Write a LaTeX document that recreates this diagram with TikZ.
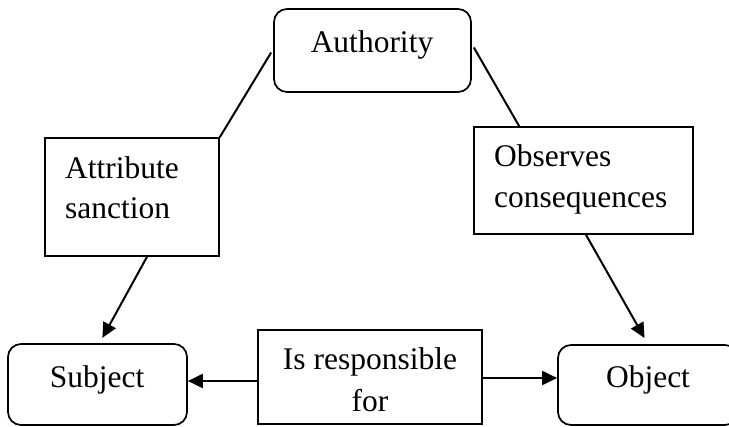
\documentclass[tikz,border=0pt]{standalone}
\usepackage{fontspec}
\setmainfont{Liberation Serif}
\usetikzlibrary{calc,arrows.meta}
\begin{document}
\begin{tikzpicture}[x=1pt,y=-1pt,
  box/.style={draw, line width=1.7pt, inner sep=0pt},
  rbox/.style={box, rounded corners=13pt},
  lbl/.style={font=\fontsize{31.5}{41}\selectfont, inner sep=0pt},
  conn/.style={line width=2pt},
  arr/.style={conn, -{Triangle[length=15pt,width=14pt]}}]
\useasboundingbox (0,0) rectangle (729,427);
\clip (0,0) rectangle (729,427);
% boxes
\node[rbox, minimum width=197pt, minimum height=83pt] (auth) at (372.5,50.5) {};
\node[box, minimum width=174pt, minimum height=118pt] (attr) at (132,197) {};
\node[box, minimum width=219pt, minimum height=107pt] (obs) at (583.5,180.5) {};
\node[rbox, minimum width=179pt, minimum height=81pt] (subj) at (97.5,384.5) {};
\node[box, minimum width=224pt, minimum height=94pt] (resp) at (370,377) {};
\node[rbox, minimum width=180pt, minimum height=80pt] (obj) at (648,385) {};
% texts
\node[lbl, anchor=base] (authT) at (372,53) {Authority};
\node[lbl, anchor=base west] (attrT1) at (65,179) {Attribute};
\node[lbl, anchor=base west] (attrT2) at (65,219) {sanction};
\node[lbl, anchor=base west] (obsT1) at (494,167) {Observes};
\node[lbl, anchor=base west] (obsT2) at (494,208) {consequences};
\node[lbl, anchor=base] (subjT) at (97,388) {Subject};
\node[lbl, anchor=base] (respT1) at (370,370) {Is responsible};
\node[lbl, anchor=base] (respT2) at (370,412) {for};
\node[lbl, anchor=base] (objT) at (648,388) {Object};
% connectors
\draw[conn] ($(auth.west)+(-2,2)$) -- (attr.north east);
\draw[conn] ($(auth.east)+(2,-3)$) -- ($(obs.north west)+(46,0)$);
\draw[arr, shorten >=6pt] ($(attr.south)+(15,0)$) -- ($(subj.north)+(2,0)$);
\draw[arr, shorten >=7pt] ($(obs.south)+(2.5,0)$) -- (obj.north);
\coordinate (rw) at ($(resp.west)+(0,4)$);
\draw[arr] (rw) -- (subj.east |- rw);
\coordinate (re) at ($(resp.east)+(0,1)$);
\draw[arr] (re) -- (obj.west |- re);
\end{tikzpicture}
\end{document}
